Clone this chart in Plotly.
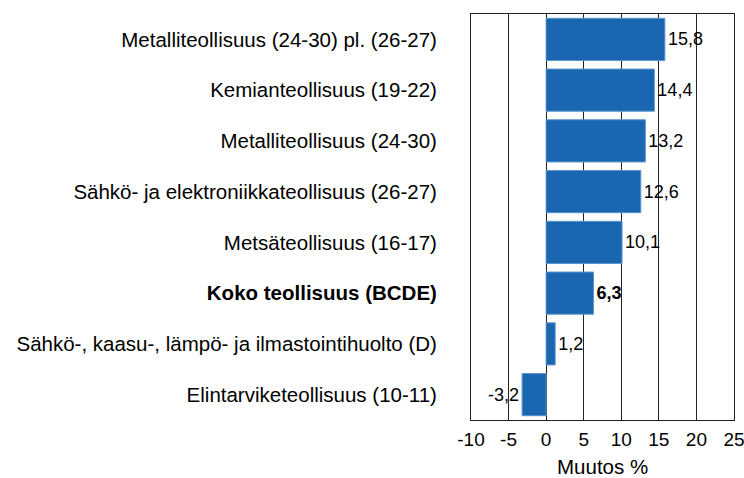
import plotly.graph_objects as go

categories = [
    "Metalliteollisuus (24-30) pl. (26-27)",
    "Kemianteollisuus (19-22)",
    "Metalliteollisuus (24-30)",
    "Sähkö- ja elektroniikkateollisuus (26-27)",
    "Metsäteollisuus (16-17)",
    "<b>Koko teollisuus (BCDE)</b>",
    "Sähkö-, kaasu-, lämpö- ja ilmastointihuolto (D)",
    "Elintarviketeollisuus (10-11)",
]
values = [15.8, 14.4, 13.2, 12.6, 10.1, 6.3, 1.2, -3.2]
value_labels = ["15,8", "14,4", "13,2", "12,6", "10,1", "<b>6,3</b>", "1,2", "-3,2"]
x_ticks = [-10, -5, 0, 5, 10, 15, 20, 25]
x_title = "Muutos %"

FONT = "Arial, Liberation Sans, sans-serif"

fig = go.Figure(go.Bar(
    x=values,
    y=categories,
    orientation="h",
    marker=dict(color="#1a66b0", line=dict(color="#5a94cf", width=1)),
    text=value_labels,
    textposition="outside",
    textfont=dict(family=FONT, size=18, color="#000"),
    cliponaxis=False,
    width=0.83,
))

W, H = 744, 478
ml, mr, mt, mb = 471, 10, 14, 58
plot_h = H - mt - mb

fig.update_layout(
    width=W, height=H,
    margin=dict(l=ml, r=mr, t=mt, b=mb, autoexpand=False),
    paper_bgcolor="#ffffff",
    plot_bgcolor="#ffffff",
    showlegend=False,
    font=dict(family=FONT, size=20, color="#000"),
    xaxis=dict(
        range=[-10, 25],
        tickvals=x_ticks,
        ticktext=[str(v) for v in x_ticks],
        showgrid=True, gridcolor="#222", gridwidth=1,
        zeroline=True, zerolinecolor="#222", zerolinewidth=1,
        showline=True, linecolor="#222", linewidth=1, mirror=True,
        ticks="", tickfont=dict(size=19), ticklabelstandoff=2,
        ticklabeloverflow="allow", automargin=False,
    ),
    yaxis=dict(
        autorange="reversed",
        showgrid=False, zeroline=False,
        showline=True, linecolor="#222", linewidth=1, mirror=True,
        ticks="", ticklabelstandoff=29,
        tickfont=dict(size=20.5), automargin=False,
    ),
    annotations=[dict(
        text=x_title, x=0.5, xref="paper", xanchor="center",
        y=-(466 - (H - mb)) / plot_h, yref="paper", yanchor="middle",
        showarrow=False, font=dict(size=20.5),
    )],
)

fig.write_html("out.html", config={"displayModeBar": False},
               post_script="document.body.style.margin='0';")
